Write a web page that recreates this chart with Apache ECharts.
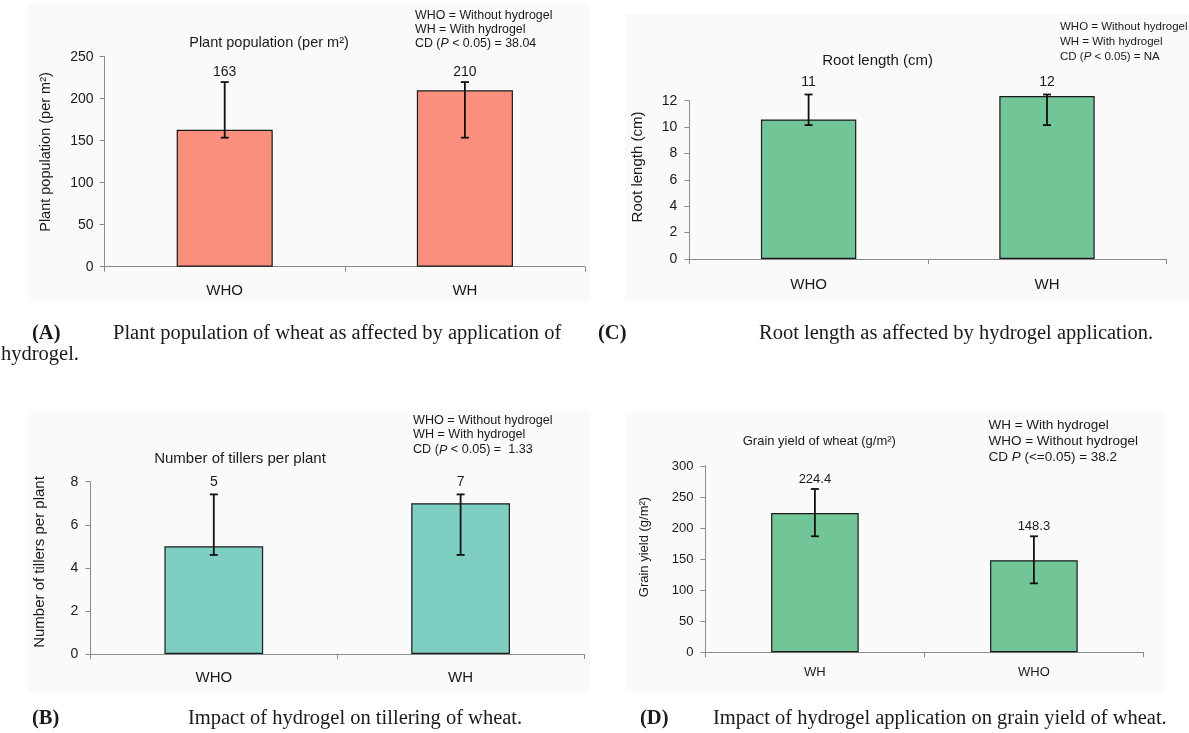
<!DOCTYPE html>
<html>
<head>
<meta charset="utf-8">
<script src="https://cdn.jsdelivr.net/npm/echarts@6/dist/echarts.min.js"></script>
<style>html,body{margin:0;padding:0;background:#fff;}#c{width:1189px;height:733px;}</style>
</head>
<body>
<div id="c"></div>
<script>
// Panel A: Plant population
const categoriesA = ['WHO', 'WH'];
const valuesA = [163, 210];
const errLowA = [153.6, 153.6];
const errHighA = [219.8, 219.8];
const labelsA = ['163', '210'];
// Panel C: Root length
const categoriesC = ['WHO', 'WH'];
const valuesC = [10.58, 12.35];
const errLowC = [10.15, 10.15];
const errHighC = [12.47, 12.47];
const labelsC = ['11', '12'];
// Panel B: Tillers
const categoriesB = ['WHO', 'WH'];
const valuesB = [5.0, 7.0];
const errLowB = [4.6, 4.6];
const errHighB = [7.41, 7.41];
const labelsB = ['5', '7'];
// Panel D: Grain yield
const categoriesD = ['WH', 'WHO'];
const valuesD = [224.4, 148.3];
const errLowD = [186.8, 111.0];
const errHighD = [263.0, 186.8];
const labelsD = ['224.4', '148.3'];

const SANS = 'Liberation Sans, Arial, sans-serif';
const SERIF = 'Liberation Serif, Times New Roman, serif';

const panels = [
  {cats: categoriesA, vals: valuesA, lo: errLowA, hi: errHighA, labs: labelsA, color: '#F98F7C',
   grid: {left: 104.6, top: 56.7, width: 480.4, height: 210}, y: {min: 0, max: 250, interval: 50},
   tickFont: 14, catFont: 15, catMargin: 17, yMargin: 11, labFont: 14, labOff: 10},
  {cats: categoriesC, vals: valuesC, lo: errLowC, hi: errHighC, labs: labelsC, color: '#72C597',
   grid: {left: 689.4, top: 100.7, width: 476.8, height: 158.3}, y: {min: 0, max: 12, interval: 2},
   tickFont: 14, catFont: 15, catMargin: 18, yMargin: 12, labFont: 14, labOff: 12},
  {cats: categoriesB, vals: valuesB, lo: errLowB, hi: errHighB, labs: labelsB, color: '#7ECFC1',
   grid: {left: 90.4, top: 481.7, width: 493.6, height: 172.3}, y: {min: 0, max: 8, interval: 2},
   tickFont: 14, catFont: 15, catMargin: 16, yMargin: 12, labFont: 14, labOff: 12},
  {cats: categoriesD, vals: valuesD, lo: errLowD, hi: errHighD, labs: labelsD, color: '#72C597',
   grid: {left: 705.4, top: 466, width: 438, height: 186.3}, y: {min: 0, max: 300, interval: 50},
   tickFont: 13, catFont: 13, catMargin: 14, yMargin: 12, labFont: 13, labOff: 10}
];

const grids = [], xAxes = [], yAxes = [], series = [];
panels.forEach((p, i) => {
  grids.push(Object.assign({}, p.grid));
  xAxes.push({
    type: 'category', gridIndex: i, data: p.cats,
    axisLine: {show: true, lineStyle: {color: '#8a8a8a', width: 1}},
    axisTick: {show: true, alignWithLabel: false, length: 5, lineStyle: {color: '#8a8a8a'}},
    axisLabel: {color: '#1a1a1a', fontSize: p.catFont, fontFamily: SANS, margin: p.catMargin},
    splitLine: {show: false}
  });
  yAxes.push({
    type: 'value', gridIndex: i, min: p.y.min, max: p.y.max, interval: p.y.interval,
    axisLine: {show: true, lineStyle: {color: '#8a8a8a', width: 1}},
    axisTick: {show: true, length: 5, lineStyle: {color: '#8a8a8a'}},
    axisLabel: {color: '#1a1a1a', fontSize: p.tickFont, fontFamily: SANS, margin: p.yMargin},
    splitLine: {show: false}
  });
  series.push({
    type: 'bar', xAxisIndex: i, yAxisIndex: i, data: p.vals, barWidth: '40%', clip: false,
    itemStyle: {color: p.color, borderColor: '#1a1a1a', borderWidth: 1.2},
    silent: true, animation: false
  });
  const ed = p.cats.map((c, k) => [k, p.lo[k], p.hi[k], p.labs[k]]);
  series.push({
    type: 'custom', xAxisIndex: i, yAxisIndex: i, data: ed, clip: false, z: 5,
    animation: false, silent: true,
    encode: {x: 0, y: [1, 2]},
    renderItem: (params, api) => {
      const x = api.value(0);
      const lo = api.coord([x, api.value(1)]);
      const hi = api.coord([x, api.value(2)]);
      const cx = lo[0], cap = 4;
      const st = {stroke: '#111', lineWidth: 1.8};
      return {type: 'group', children: [
        {type: 'line', shape: {x1: cx, y1: lo[1], x2: cx, y2: hi[1]}, style: st},
        {type: 'line', shape: {x1: cx - cap, y1: lo[1], x2: cx + cap, y2: lo[1]}, style: st},
        {type: 'line', shape: {x1: cx - cap, y1: hi[1], x2: cx + cap, y2: hi[1]}, style: st},
        {type: 'text', x: cx, y: hi[1] - p.labOff, style: {text: ed[params.dataIndex][3], fill: '#1a1a1a',
          font: p.labFont + 'px ' + SANS, align: 'center', verticalAlign: 'middle'}}
      ]};
    }
  });
});

function txt(x, y, text, size, opts) {
  opts = opts || {};
  return {type: 'text', x: x, y: y, rotation: opts.rot || 0, z: 10,
    style: Object.assign({text: text, fill: '#1a1a1a', fontSize: size, fontFamily: opts.family || SANS,
      fontWeight: opts.weight || 'normal', align: opts.align || 'left', verticalAlign: 'middle',
      rich: {i: {fontStyle: 'italic', fontSize: size, fontFamily: opts.family || SANS, fill: '#1a1a1a'},
             n: {fontSize: size, fontFamily: opts.family || SANS, fill: '#1a1a1a'}}}, opts.style || {})};
}

const CAP = 20.5;
const graphics = [
  // faint panel backgrounds
  {type: 'rect', shape: {x: 28, y: 4, width: 562, height: 298}, style: {fill: '#fafafa'}, z: -10},
  {type: 'rect', shape: {x: 625, y: 14, width: 564, height: 288}, style: {fill: '#fafafa'}, z: -10},
  {type: 'rect', shape: {x: 28, y: 410, width: 562, height: 282}, style: {fill: '#fafafa'}, z: -10},
  {type: 'rect', shape: {x: 625, y: 412, width: 540, height: 280}, style: {fill: '#fafafa'}, z: -10},
  // Panel A texts
  txt(269, 43, 'Plant population (per m²)', 14.5, {align: 'center'}),
  txt(415, 16, 'WHO = Without hydrogel', 12.4),
  txt(415, 30, 'WH = With hydrogel', 12.4),
  txt(415, 44, '{n|CD (}{i|P}{n| < 0.05) = 38.04}', 12.4),
  txt(46, 152, 'Plant population (per m²)', 14.5, {align: 'center', rot: Math.PI / 2}),
  // Panel C texts
  txt(877.6, 61, 'Root length (cm)', 15, {align: 'center'}),
  txt(1060, 27, 'WHO = Without hydrogel', 11.5),
  txt(1060, 42, 'WH = With hydrogel', 11.5),
  txt(1060, 57, '{n|CD (}{i|P}{n| < 0.05) = NA}', 11.5),
  txt(637.6, 167, 'Root length (cm)', 15, {align: 'center', rot: Math.PI / 2}),
  // Panel B texts
  txt(240, 459, 'Number of tillers per plant', 15, {align: 'center'}),
  txt(413, 421, 'WHO = Without hydrogel', 12.6),
  txt(413, 435, 'WH = With hydrogel', 12.6),
  txt(413, 450, '{n|CD (}{i|P}{n| < 0.05) =  1.33}', 12.6),
  txt(40, 562, 'Number of tillers per plant', 15, {align: 'center', rot: Math.PI / 2}),
  // Panel D texts
  txt(819.3, 441, 'Grain yield of wheat (g/m²)', 13, {align: 'center'}),
  txt(988.4, 425, 'WH = With hydrogel', 13.5),
  txt(988.4, 441, 'WHO = Without hydrogel', 13.5),
  txt(988.4, 457, '{n|CD }{i|P}{n| (<=0.05) = 38.2}', 13.5),
  txt(644.5, 547, 'Grain yield (g/m²)', 13, {align: 'center', rot: Math.PI / 2}),
  // Captions
  txt(32, 334, '(A)', CAP, {family: SERIF, weight: 'bold'}),
  txt(113, 334, 'Plant population of wheat as affected by application of', CAP, {family: SERIF}),
  txt(1, 355, 'hydrogel.', CAP, {family: SERIF}),
  txt(598, 334, '(C)', CAP, {family: SERIF, weight: 'bold'}),
  txt(759, 334, 'Root length as affected by hydrogel application.', CAP, {family: SERIF}),
  txt(32, 719, '(B)', CAP, {family: SERIF, weight: 'bold'}),
  txt(188, 719, 'Impact of hydrogel on tillering of wheat.', CAP, {family: SERIF}),
  txt(640, 719, '(D)', CAP, {family: SERIF, weight: 'bold'}),
  txt(713, 719, 'Impact of hydrogel application on grain yield of wheat.', CAP, {family: SERIF})
];

const chart = echarts.init(document.getElementById('c'), null, {renderer: 'canvas'});
chart.setOption({
  animation: false,
  backgroundColor: '#ffffff',
  grid: grids, xAxis: xAxes, yAxis: yAxes, series: series,
  graphic: graphics
});
</script>
</body>
</html>
